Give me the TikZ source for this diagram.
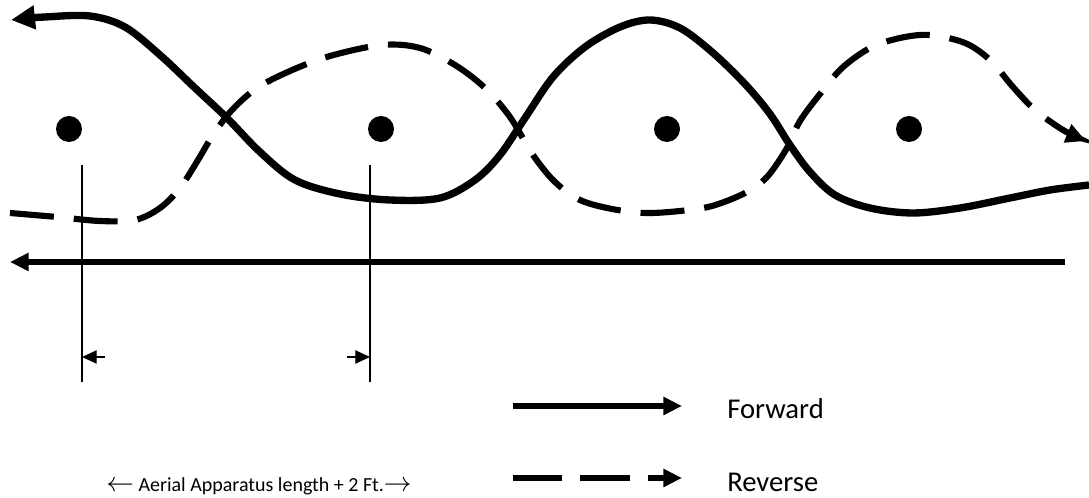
\documentclass[tikz,border=0pt]{standalone}
\usepackage{fontspec}
\setmainfont{Carlito}
\usetikzlibrary{arrows.meta, positioning}

\newcommand{\bigarrow}[1]{{\fontsize{22}{22}\selectfont$#1$}}

\begin{document}
\begin{tikzpicture}[x=0.75pt, y=-0.75pt,
    fwd/.style={line width=5.5pt},
    rev/.style={line width=4.6pt, dash pattern=on 33pt off 15pt},
    dot/.style={circle, fill=black, inner sep=0pt, minimum size=19.5pt},
    guide/.style={line width=0.9pt},
    legend/.style={font=\fontsize{21.5}{26}\selectfont, inner sep=0pt, anchor=base west}]

    \useasboundingbox (0,0) rectangle (1089,498);

    % pivot points
    \node (p1) [dot] at (69,129) {};
    \node (p2) [dot] at (381,129) {};
    \node (p3) [dot] at (667,129) {};
    \node (p4) [dot] at (909,129) {};

    % forward travel
    \draw[fwd, {Triangle[length=18pt, width=17pt]}-] plot[smooth, tension=0.55] coordinates {
        (11,20) (45,17) (90,16) (125,27) (160,55) (195,88) (227,118) (260,152)
        (295,180) (340,194) (390,200) (440,198) (475,180) (500,155) (525,118)
        (553,77) (585,47) (620,27) (650,20) (680,28) (712,52) (745,84)
        (770,114) (790,145) (810,172) (835,195) (870,208) (913,213) (960,208)
        (1010,198) (1050,190) (1089,185)};

    % reverse travel
    \draw[rev, -{Triangle[length=15pt, width=14pt]}] plot[smooth, tension=0.55] coordinates {
        (10,213) (57,217) (100,221) (135,220) (160,208) (180,188) (198,160)
        (213,135) (232,110) (257,88) (290,71) (330,56) (382,45) (420,48)
        (455,65) (485,88) (510,117) (533,155) (555,182) (580,200) (612,209)
        (645,213) (680,211) (712,206) (745,193) (767,177) (787,148) (800,121)
        (820,94) (842,68) (870,48) (900,38) (930,35) (965,43) (990,60)
        (1013,87) (1035,110) (1063,130) (1086,141)};

    % ground line
    \coordinate (gr) at (1065,262);
    \coordinate (gl) at (10,262);
    \draw[line width=3.8pt, -{Triangle[length=14pt, width=13pt]}] (gr) -- (gl);

    % dimension
    \coordinate (d1t) at (82,165);
    \coordinate (d1b) at (82,382);
    \coordinate (d2t) at (370,165);
    \coordinate (d2b) at (370,382);
    \coordinate (d1a) at (105,357);
    \coordinate (d1h) at (82,357);
    \coordinate (d2a) at (347,357);
    \coordinate (d2h) at (370,357);
    \draw[guide] (d1t) -- (d1b);
    \draw[guide] (d2t) -- (d2b);
    \draw[guide, -{Triangle[length=11pt, width=10pt]}] (d1a) -- (d1h);
    \draw[guide, -{Triangle[length=11pt, width=10pt]}] (d2a) -- (d2h);
    \node (span) [anchor=base, inner sep=0pt, font=\fontsize{15}{18}\selectfont] at (259,492)
        {\bigarrow{\leftarrow} Aerial Apparatus length + 2 Ft.\bigarrow{\rightarrow}};

    % legend
    \coordinate (fa) at (513,406);
    \coordinate (fb) at (682,406);
    \coordinate (ra) at (513,478);
    \coordinate (rb) at (682,478);
    \draw[line width=4.5pt, -{Triangle[length=14pt, width=13pt]}] (fa) -- (fb);
    \draw[line width=4.5pt, dash pattern=on 37pt off 13.5pt, -{Triangle[length=14pt, width=13pt]}] (ra) -- (rb);
    \node (fwdtxt) [legend] at (727,419) {Forward};
    \node (revtxt) [legend] at (727,492) {Reverse};

\end{tikzpicture}
\end{document}
